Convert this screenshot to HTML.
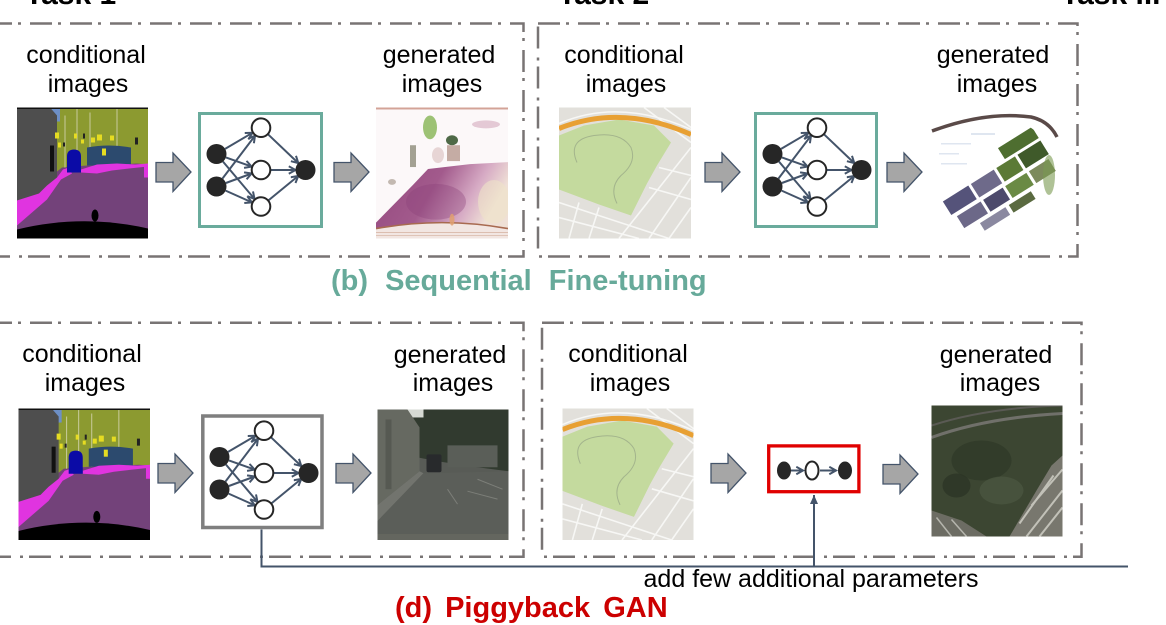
<!DOCTYPE html>
<html>
<head>
<meta charset="utf-8">
<style>
  html,body{margin:0;padding:0;background:#fff;}
  body{width:1166px;height:625px;overflow:hidden;}
  svg{display:block;}
  .t{font-family:"Liberation Sans",Arial,sans-serif;font-size:25px;fill:#000;}
  .tb{font-family:"Liberation Sans",Arial,sans-serif;font-size:30px;font-weight:bold;fill:#000;}
  .lab{font-family:"Liberation Sans",Arial,sans-serif;font-size:29px;font-weight:bold;word-spacing:9px;}
  .lab2{font-family:"Liberation Sans",Arial,sans-serif;font-size:29px;font-weight:bold;word-spacing:5px;}
</style>
</head>
<body>
<svg width="1166" height="625" viewBox="0 0 1166 625" xmlns="http://www.w3.org/2000/svg">
<defs>
  <marker id="ah" markerUnits="userSpaceOnUse" markerWidth="11" markerHeight="11" refX="7.5" refY="4.5" orient="auto">
    <path d="M0.8,0.8 L7.5,4.5 L0.8,8.2" fill="none" stroke="#44546a" stroke-width="2"/>
  </marker>
  <marker id="ahf" markerUnits="userSpaceOnUse" markerWidth="12" markerHeight="12" refX="9" refY="4" orient="auto">
    <path d="M0,0 L9,4 L0,8 Z" fill="#44546a"/>
  </marker>
  <path id="barrow" d="M0,9.5 H17 V0 L35,19 L17,38.5 V29 H0 Z" fill="#a6a6a6" stroke="#44546a" stroke-width="1.3"/>

  <g id="net">
    <g stroke="#44546a" stroke-width="2" fill="none" marker-end="url(#ah)">
      <line x1="27.1" y1="36.9" x2="54.4" y2="20.8"/>
      <line x1="27.9" y1="45.4" x2="53.6" y2="54.6"/>
      <line x1="25" y1="49.6" x2="56.5" y2="86.9"/>
      <line x1="24.5" y1="66.5" x2="57" y2="23.7"/>
      <line x1="27.9" y1="71" x2="53.6" y2="61.5"/>
      <line x1="27.6" y1="78.6" x2="53.9" y2="90.4"/>
      <line x1="69.9" y1="22.2" x2="100.3" y2="51.1"/>
      <line x1="72.5" y1="58" x2="97.5" y2="58"/>
      <line x1="70.3" y1="88.5" x2="100.3" y2="63.9"/>
    </g>
    <circle cx="18.5" cy="42" r="10" fill="#262626"/>
    <circle cx="18.5" cy="74.5" r="10" fill="#262626"/>
    <circle cx="63" cy="15.7" r="9.3" fill="#fff" stroke="#262626" stroke-width="2"/>
    <circle cx="63" cy="58" r="9.3" fill="#fff" stroke="#262626" stroke-width="2"/>
    <circle cx="63" cy="94.5" r="9.3" fill="#fff" stroke="#262626" stroke-width="2"/>
    <circle cx="107.5" cy="58" r="10" fill="#262626"/>
  </g>

  <linearGradient id="pinkg" x1="0" y1="0" x2="1" y2="0.3">
    <stop offset="0" stop-color="#94487e"/>
    <stop offset="0.5" stop-color="#a25a8c"/>
    <stop offset="0.8" stop-color="#d6aac4"/>
    <stop offset="1" stop-color="#efe0d6"/>
  </linearGradient>
  <clipPath id="fishclip"><ellipse cx="64" cy="64" rx="63" ry="60"/></clipPath>

  <!-- segmentation map -->
  <symbol id="seg" viewBox="0 0 131 131" preserveAspectRatio="none">
    <rect width="131" height="131" fill="#73427a"/>
    <path d="M0,0H131V57 L120,56 L100,57 L70,58 L45,60 L35,68 L0,92Z" fill="#8c9a30"/>
    <rect x="17" y="0" width="26" height="14" fill="#6d8fc6"/>
    <path d="M0,0 H33 L40,8 V72 L28,80 L22,86 L0,93Z" fill="#4e4e4e"/>
    <rect x="33" y="38" width="4" height="26" fill="#111"/>
    <g stroke="#d8d8b8" stroke-width="0.8"><line x1="60" y1="0" x2="60" y2="60"/><line x1="73" y1="5" x2="73" y2="58"/><line x1="100" y1="0" x2="100" y2="56"/><line x1="48" y1="8" x2="48" y2="60"/></g>
    <path d="M70,40 Q92,36 114,40 V58 H70Z" fill="#2c4a6e"/>
    <path d="M0,93 L22,86 L30,78 L40,70 L46,62 L52,60 L55,66 L44,72 L30,92 L0,118Z" fill="#e034e0"/>
    <path d="M64,62 L80,57 L100,56 L118,57 L131,56 V59 L112,61 L95,63 L80,66 L64,65Z" fill="#e034e0"/>
    <rect x="127" y="57" width="4" height="13" fill="#e034e0"/>
    <path d="M50,49 Q50,42 57,42 Q64,42 64,49 V65 H50Z" fill="#0b0ba6"/>
    <g fill="#e6dc22">
      <rect x="38" y="25" width="4" height="6"/><rect x="41" y="35" width="3" height="5"/>
      <rect x="57" y="26" width="3" height="5"/><rect x="74" y="30" width="4" height="5"/>
      <rect x="80" y="27" width="5" height="6"/><rect x="85" y="41" width="4" height="7"/>
      <rect x="93" y="28" width="4" height="5"/><rect x="64" y="32" width="3" height="4"/>
    </g>
    <g fill="#222"><rect x="118" y="30" width="3" height="7"/><rect x="66" y="26" width="2" height="5"/><rect x="46" y="35" width="2" height="4"/></g>
    <path d="M0,131 V122 Q65,106 131,121 V131Z" fill="#000"/>
    <ellipse cx="78" cy="108" rx="3.5" ry="6" fill="#000"/>
    <rect width="131" height="1.5" fill="#111"/>
  </symbol>

  <!-- degraded generated image -->
  <symbol id="gen1" viewBox="0 0 132 132" preserveAspectRatio="none">
    <rect width="132" height="132" fill="#fcf8f9"/>
    <rect width="132" height="2" fill="#b86a55" opacity="0.6"/>
    <path d="M0,116 L37,78 L52,62 L94,57 L132,55 V124 L0,124Z" fill="url(#pinkg)"/>
    <ellipse cx="60" cy="95" rx="30" ry="18" fill="#8a3e78" opacity="0.35"/>
    <ellipse cx="118" cy="95" rx="16" ry="22" fill="#efe2c8" opacity="0.6"/>
    <path d="M0,132 V122 Q66,110 132,122 V132Z" fill="#f2e6e2"/>
    <path d="M0,122 Q66,110 132,122" stroke="#a86a50" stroke-width="1.6" fill="none"/>
    <g stroke="#d9b8a8" stroke-width="0.8"><line x1="0" y1="126" x2="132" y2="126"/><line x1="0" y1="129" x2="132" y2="129"/></g>
    <ellipse cx="54" cy="20" rx="7" ry="12" fill="#8cb85e" opacity="0.85"/>
    <ellipse cx="76" cy="33" rx="6" ry="5" fill="#2f5028" opacity="0.85"/>
    <rect x="71" y="38" width="13" height="16" fill="#a07a6a" opacity="0.6"/>
    <rect x="34" y="38" width="6" height="22" fill="#5a5a40" opacity="0.55"/>
    <ellipse cx="62" cy="48" rx="6" ry="8" fill="#c8a0a0" opacity="0.4"/>
    <ellipse cx="110" cy="17" rx="14" ry="4" fill="#c890a8" opacity="0.45"/>
    <ellipse cx="16" cy="75" rx="4" ry="3" fill="#8a7a6a" opacity="0.5"/>
    <ellipse cx="76" cy="113" rx="2.5" ry="6" fill="#e0a070" opacity="0.85"/>
  </symbol>

  <!-- map image -->
  <symbol id="map" viewBox="0 0 132 131" preserveAspectRatio="none">
    <rect width="132" height="131" fill="#e2e0db"/>
    <g stroke="#f7f7f5" stroke-width="1.6" fill="none">
      <line x1="132" y1="40" x2="60" y2="131"/>
      <line x1="132" y1="70" x2="90" y2="131"/>
      <line x1="132" y1="100" x2="110" y2="131"/>
      <line x1="0" y1="95" x2="110" y2="131"/>
      <line x1="0" y1="110" x2="80" y2="131"/>
      <line x1="90" y1="80" x2="132" y2="92"/>
      <line x1="100" y1="60" x2="132" y2="68"/>
      <line x1="20" y1="95" x2="10" y2="131"/>
      <line x1="40" y1="100" x2="30" y2="131"/>
      <line x1="105" y1="0" x2="132" y2="20"/>
      <line x1="85" y1="0" x2="132" y2="35"/>
    </g>
    <path d="M0,28 L25,18 L60,12 L95,18 L112,35 L98,58 L88,76 L72,108 L40,97 L0,82Z" fill="#c4da9e"/>
    <path d="M18,55 Q8,32 35,28 Q62,24 72,40 Q78,55 62,68 Q50,80 58,96" stroke="#a3b48c" stroke-width="1" fill="none"/>
    <path d="M0,16 Q60,-10 132,22" stroke="#f7f7f5" stroke-width="1.5" fill="none"/>
    <path d="M0,21 Q62,-4 132,27" stroke="#e8a033" stroke-width="5" fill="none"/>
  </symbol>

  <!-- fisheye generated -->
  <symbol id="gen2" viewBox="0 0 128 124" preserveAspectRatio="none">
    <rect width="128" height="124" fill="#fff"/>
    <g clip-path="url(#fishclip)">
      <g transform="rotate(-32 64 70)">
        <rect x="85" y="42" width="40" height="13" fill="#4e6e30"/>
        <rect x="10" y="58" width="30" height="16" fill="#55537a"/>
        <rect x="43" y="58" width="27" height="16" fill="#6e6a8a"/>
        <rect x="73" y="58" width="22" height="16" fill="#5b7a36"/>
        <rect x="98" y="58" width="27" height="16" fill="#3f5a2a"/>
        <rect x="14" y="78" width="28" height="14" fill="#6c6888"/>
        <rect x="45" y="78" width="23" height="14" fill="#4d4a6c"/>
        <rect x="71" y="78" width="25" height="14" fill="#6a8a44"/>
        <rect x="99" y="78" width="23" height="14" fill="#7c8a5c"/>
        <rect x="30" y="96" width="30" height="9" fill="#8a88a0"/>
        <rect x="64" y="96" width="26" height="9" fill="#5a6a40"/>
      </g>
      <ellipse cx="118" cy="62" rx="6" ry="20" fill="#7a9a50" opacity="0.6"/>
    </g>
    <g fill="#dfe6f0"><rect x="40" y="20" width="24" height="2"/><rect x="10" y="30" width="30" height="1.5"/><rect x="8" y="40" width="20" height="1.5"/><rect x="10" y="50" width="26" height="1.5"/></g>
    <path d="M1,18 Q55,-2 100,4 Q118,8 126,24" stroke="#5a4a48" stroke-width="3.5" fill="none"/>
  </symbol>

  <!-- street photo -->
  <symbol id="street" viewBox="0 0 131 131" preserveAspectRatio="none">
    <rect width="131" height="131" fill="#585b56"/>
    <path d="M35,0 H131 V62 L100,58 L60,52 L40,48Z" fill="#313a2f"/>
    <rect x="70" y="36" width="50" height="22" fill="#5a5e58"/>
    <rect x="18" y="0" width="28" height="8" fill="#d6d9d3"/>
    <path d="M0,0 H30 L42,18 V62 L0,96Z" fill="#666961"/>
    <rect x="8" y="10" width="6" height="70" fill="#565952"/>
    <path d="M0,96 L42,62 L46,64 L0,112Z" fill="#72746e"/>
    <path d="M0,112 L46,64 L131,62 V131 H0Z" fill="#5b5e59"/>
    <rect x="49" y="45" width="15" height="18" rx="2" fill="#282a2c"/>
    <g stroke="#8a8c86" stroke-width="1" opacity="0.7"><line x1="100" y1="70" x2="125" y2="80"/><line x1="90" y1="82" x2="120" y2="90"/><line x1="70" y1="80" x2="80" y2="95"/></g>
    <rect y="125" width="131" height="6" fill="#64665f"/>
  </symbol>

  <!-- satellite -->
  <symbol id="sat" viewBox="0 0 131 131" preserveAspectRatio="none">
    <rect width="131" height="131" fill="#3c4632"/>
    <ellipse cx="50" cy="55" rx="30" ry="20" fill="#2f3a28" opacity="0.8"/>
    <ellipse cx="70" cy="85" rx="22" ry="14" fill="#4a5540" opacity="0.8"/>
    <ellipse cx="25" cy="80" rx="14" ry="12" fill="#2c3526" opacity="0.8"/>
    <path d="M0,32 Q55,12 131,8" stroke="#70706a" stroke-width="3" fill="none"/>
    <path d="M0,20 Q55,2 131,0" stroke="#5a5a54" stroke-width="2" fill="none"/>
    <path d="M78,131 L105,85 L120,60 L131,50 V131Z" fill="#78776e"/>
    <g stroke="#cfcfc6" stroke-width="2" opacity="0.85">
      <line x1="95" y1="131" x2="131" y2="85"/><line x1="108" y1="131" x2="131" y2="102"/>
      <line x1="88" y1="118" x2="122" y2="70"/><line x1="100" y1="100" x2="131" y2="64"/>
    </g>
    <path d="M0,105 L30,115 L55,131 H0Z" fill="#6c6c63"/>
    <g stroke="#c8c8c0" stroke-width="1.5" opacity="0.8"><line x1="5" y1="112" x2="20" y2="131"/><line x1="20" y1="114" x2="35" y2="131"/></g>
  </symbol>
</defs>

<!-- Task labels (cut off at top) -->
<text class="tb" x="25" y="4">Task 1</text>
<text class="tb" x="558" y="4">Task 2</text>
<text class="tb" x="1061" y="4">Task ...</text>

<!-- Dashed frames -->
<g fill="none" stroke="#787474" stroke-width="2.5" stroke-dasharray="22 6 3 9">
  <path d="M-10,23.5 H523.5 V256.5 H-10"/>
  <rect x="538" y="23.5" width="539.5" height="233"/>
  <path d="M-10,322.7 H523.5 V556.7 H-10"/>
  <rect x="542" y="322.7" width="539.5" height="234"/>
</g>

<!-- ===== Top row ===== -->
<text class="t" x="86" y="63" text-anchor="middle">conditional</text>
<text class="t" x="88" y="92" text-anchor="middle">images</text>
<text class="t" x="439" y="63" text-anchor="middle">generated</text>
<text class="t" x="442" y="92" text-anchor="middle">images</text>
<use href="#seg" x="17" y="107.5" width="131" height="131"/>
<use href="#barrow" x="156" y="153"/>
<rect x="199.5" y="113.5" width="122" height="113" fill="#fff" stroke="#6aab9c" stroke-width="3"/>
<use href="#net" x="198" y="112"/>
<use href="#barrow" x="334" y="153"/>
<use href="#gen1" x="376" y="107.5" width="132" height="131"/>

<text class="t" x="624" y="63" text-anchor="middle">conditional</text>
<text class="t" x="626" y="92" text-anchor="middle">images</text>
<text class="t" x="993" y="63" text-anchor="middle">generated</text>
<text class="t" x="997" y="92" text-anchor="middle">images</text>
<use href="#map" x="559" y="107.5" width="132" height="131"/>
<use href="#barrow" x="705" y="153"/>
<rect x="755.5" y="113.5" width="121" height="113" fill="#fff" stroke="#6aab9c" stroke-width="3"/>
<use href="#net" x="754" y="112"/>
<use href="#barrow" x="887" y="153"/>
<use href="#gen2" x="931" y="113" width="128" height="124"/>

<text class="lab" x="331" y="290" fill="#67aa9a">(b) Sequential Fine-tuning</text>

<!-- ===== Bottom row ===== -->
<text class="t" x="82" y="362" text-anchor="middle">conditional</text>
<text class="t" x="85" y="391" text-anchor="middle">images</text>
<text class="t" x="450" y="363" text-anchor="middle">generated</text>
<text class="t" x="453" y="391" text-anchor="middle">images</text>
<use href="#seg" x="18.5" y="408.5" width="131.5" height="131.5"/>
<use href="#barrow" x="158" y="454"/>
<rect x="202.8" y="416" width="119.2" height="111.5" fill="#fff" stroke="#7f7f7f" stroke-width="3.5"/>
<use href="#net" x="201" y="415"/>
<use href="#barrow" x="336" y="454"/>
<use href="#street" x="377.5" y="409.5" width="131" height="130.5"/>

<text class="t" x="628" y="362" text-anchor="middle">conditional</text>
<text class="t" x="630" y="391" text-anchor="middle">images</text>
<text class="t" x="996" y="363" text-anchor="middle">generated</text>
<text class="t" x="1000" y="391" text-anchor="middle">images</text>
<use href="#map" x="562.5" y="408.5" width="131" height="131.5"/>
<use href="#barrow" x="711" y="454"/>
<rect x="768.7" y="445.9" width="90.2" height="45.8" fill="#fff" stroke="#e00000" stroke-width="3.3"/>
<g>
  <line x1="791" y1="470.5" x2="803" y2="470.5" stroke="#44546a" stroke-width="2" marker-end="url(#ah)"/>
  <line x1="820" y1="470.5" x2="836" y2="470.5" stroke="#44546a" stroke-width="2" marker-end="url(#ah)"/>
  <ellipse cx="784" cy="470.5" rx="7" ry="9" fill="#262626"/>
  <ellipse cx="812" cy="470.5" rx="6.5" ry="9" fill="#fff" stroke="#262626" stroke-width="2"/>
  <ellipse cx="845" cy="470.5" rx="7" ry="9" fill="#262626"/>
</g>
<use href="#barrow" x="883" y="455"/>
<use href="#sat" x="931.5" y="405.5" width="131" height="131"/>

<!-- connector -->
<polyline points="261.5,529.5 261.5,566.5 1128,566.5" fill="none" stroke="#44546a" stroke-width="2"/>
<line x1="814" y1="566.5" x2="814" y2="495" stroke="#44546a" stroke-width="2" marker-end="url(#ahf)"/>
<text class="t" x="811" y="587" text-anchor="middle">add few additional parameters</text>

<text class="lab2" x="395" y="617" fill="#cc0000">(d) Piggyback GAN</text>
</svg>
</body>
</html>
